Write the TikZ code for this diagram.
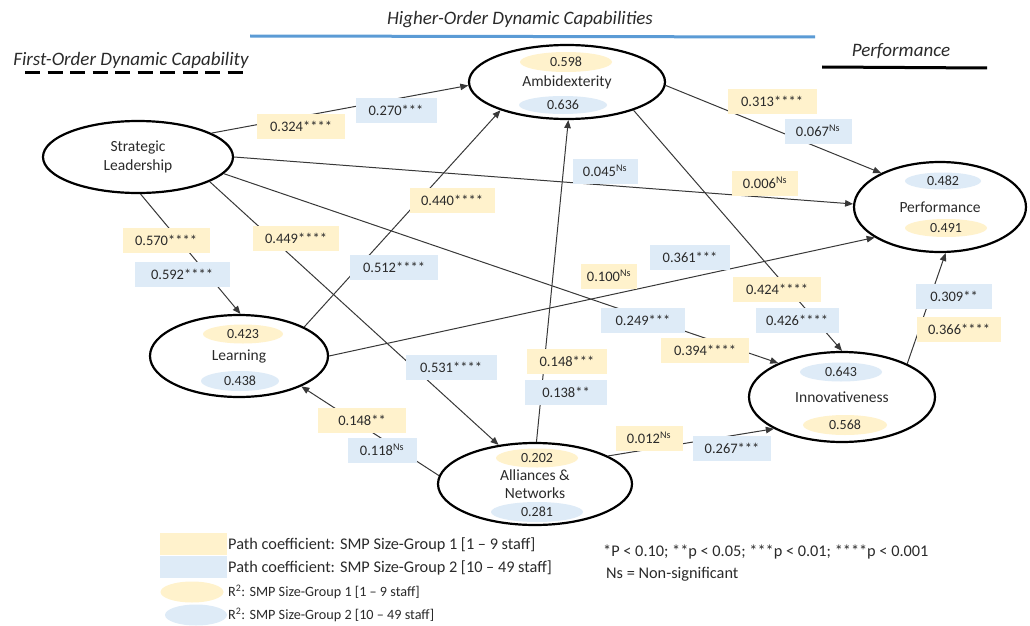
\documentclass[tikz,border=0pt]{standalone}
\usepackage{fontspec}
\setmainfont{Carlito}
\usetikzlibrary{arrows.meta,shapes.geometric}
\definecolor{gone}{HTML}{FFF2CC}
\definecolor{gtwo}{HTML}{DEEBF7}
\definecolor{hdrblue}{HTML}{5B9BD5}
\definecolor{ink}{HTML}{2A2A2A}
\begin{document}
\begin{tikzpicture}[x=1pt,y=-1pt,
  construct/.style={ellipse,draw=black,line width=2.2pt,fill=white,inner sep=0pt,
    align=center,font=\fontsize{15.5}{18.5}\selectfont,text=ink},
  rone/.style={ellipse,fill=gone,inner sep=0pt,minimum width=82pt,minimum height=20pt,
    font=\fontsize{14}{16}\selectfont,text=ink},
  rtwo/.style={rone,fill=gtwo},
  pone/.style={rectangle,fill=gone,inner sep=0pt,minimum height=25pt,
    font=\fontsize{14.5}{16}\selectfont,text=ink},
  ptwo/.style={pone,fill=gtwo},
  link/.style={draw=black!78,line width=1pt,-{Triangle[length=8pt,width=6.5pt]}},
  hdr/.style={font=\fontsize{19}{22}\selectfont\itshape,text=ink},
  legtxt/.style={font=\fontsize{16.3}{18}\selectfont,text=ink,inner sep=0pt},
  legsmall/.style={font=\fontsize{14.2}{16}\selectfont,text=ink,inner sep=0pt}]
\useasboundingbox (0,0) rectangle (1030,626);

% section headings
\node[hdr] (hoc) at (520,20) {Higher-Order Dynamic Capabilities};
\draw[hdrblue,line width=3pt] (250,36) -- (815,37);
\node[hdr] (foc) at (131,60) {First-Order Dynamic Capability};
\draw[black,line width=3pt,dash pattern=on 15pt off 7.5pt] (25,72) -- (250,72);
\node[hdr] (perfh) at (901,51) {Performance};
\draw[black,line width=3pt] (822,67) -- (987,68);

% constructs
\node[construct,minimum width=190pt,minimum height=72pt] (sl) at (138,157) {Strategic\\Leadership};
\node[construct,minimum width=196pt,minimum height=74pt] (amb) at (567,82) {Ambidexterity};
\node[construct,minimum width=172pt,minimum height=90pt] (perf) at (940,207) {Performance};
\node[construct,minimum width=178pt,minimum height=82pt] (lrn) at (239,356) {Learning};
\node[construct,minimum width=186pt,minimum height=90pt] (inn) at (842,397) {Innovativeness};
\node[construct,minimum width=194pt,minimum height=82pt] (all) at (535,484) {Alliances \&\\Networks};

% R-squared values
\node[rone,minimum width=92pt] (ambr1) at (566,62) {0.598};
\node[rtwo,minimum width=88pt,minimum height=18pt] (ambr2) at (563,105) {0.636};
\node[rtwo,minimum width=76pt,minimum height=17pt] (perfr2) at (943,181) {0.482};
\node[rone,minimum width=82pt,minimum height=18pt] (perfr1) at (946,228) {0.491};
\node[rone,minimum width=80pt,minimum height=19pt] (lrnr1) at (243,334) {0.423};
\node[rtwo,minimum width=78pt,minimum height=20pt] (lrnr2) at (240,381) {0.438};
\node[rtwo,minimum width=82pt,minimum height=19pt] (innr2) at (841,372) {0.643};
\node[rone,minimum width=84pt,minimum height=20pt] (innr1) at (845,425) {0.568};
\node[rone,minimum width=82pt,minimum height=19pt] (allr1) at (537,458) {0.202};
\node[rtwo,minimum width=92pt,minimum height=20pt] (allr2) at (537,512) {0.281};

% structural paths
\draw[link] (sl.18.7) -- (amb.182);
\draw[link] (sl.0) -- (perf.178);
\draw[link] (sl.-86.7) -- (lrn.88.6);
\draw[link] (sl.-19.9) -- (all.133.4);
\draw[link] (sl.-11) -- (inn.152.4);
\draw[link] (lrn.24.4) -- (amb.203.2);
\draw[link] (lrn.0) -- (perf.205);
\draw[link] (amb.-2) -- (perf.150.5);
\draw[link] (amb.-23.2) -- (inn.90);
\draw[link] (all.88.6) -- (amb.-88.5);
\draw[link] (all.175.9) -- (lrn.-26.6);
\draw[link] (all.21.3) -- (inn.205.5);
\draw[link] (inn.27.6) -- (perf.-83);

% path coefficients
\node[pone,minimum width=88pt] (c1a) at (301,126) {0.324****};
\node[ptwo,minimum width=81pt] (c1b) at (396,110) {0.270***};
\node[ptwo,minimum width=65pt] (c2b) at (605,171) {0.045\textsuperscript{Ns}};
\node[pone,minimum width=66pt] (c2a) at (765,183) {0.006\textsuperscript{Ns}};
\node[pone,minimum width=87pt] (c3a) at (166,240) {0.570****};
\node[ptwo,minimum width=95pt] (c3b) at (182,274) {0.592****};
\node[pone,minimum width=86pt] (c4a) at (296,238) {0.449****};
\node[ptwo,minimum width=91pt] (c4b) at (451,367) {0.531****};
\node[ptwo,minimum width=84pt] (c5b) at (643,320) {0.249***};
\node[pone,minimum width=88pt] (c5a) at (705,350) {0.394****};
\node[ptwo,minimum width=88pt] (c6b) at (394,267) {0.512****};
\node[pone,minimum width=85pt] (c6a) at (452,200) {0.440****};
\node[pone,minimum width=56pt] (c7a) at (609,276) {0.100\textsuperscript{Ns}};
\node[ptwo,minimum width=80pt] (c7b) at (690,257) {0.361***};
\node[pone,minimum width=89pt] (c8a) at (772,101) {0.313****};
\node[ptwo,minimum width=67pt] (c8b) at (818,131) {0.067\textsuperscript{Ns}};
\node[pone,minimum width=88pt] (c9a) at (777,289) {0.424****};
\node[ptwo,minimum width=83pt] (c9b) at (797,320) {0.426****};
\node[pone,minimum width=80pt] (c10a) at (567,361) {0.148***};
\node[ptwo,minimum width=82pt] (c10b) at (566,392) {0.138**};
\node[pone,minimum width=88pt] (c11a) at (362,420) {0.148**};
\node[ptwo,minimum width=69pt] (c11b) at (382,450) {0.118\textsuperscript{Ns}};
\node[pone,minimum width=67pt] (c12a) at (649,438) {0.012\textsuperscript{Ns}};
\node[ptwo,minimum width=78pt] (c12b) at (732,448) {0.267***};
\node[ptwo,minimum width=76pt] (c13b) at (954,296) {0.309**};
\node[pone,minimum width=84pt] (c13a) at (959,329) {0.366****};

% key
\node[pone,minimum width=67pt,minimum height=22pt] (k1) at (193,544) {};
\node[ptwo,minimum width=67pt,minimum height=22pt] (k2) at (193,567) {};
\node[rone,minimum width=63pt,minimum height=21pt] (k3) at (192,592) {};
\node[rtwo,minimum width=62pt,minimum height=21pt] (k4) at (196,615) {};
\node[legtxt,anchor=west] (t1) at (228,545) {Path coefficient: SMP Size-Group 1 [1 – 9 staff]};
\node[legtxt,anchor=west] (t2) at (228,568) {Path coefficient: SMP Size-Group 2 [10 – 49 staff]};
\node[legsmall,anchor=west] (t3) at (228,592) {R\textsuperscript{2}: SMP Size-Group 1 [1 – 9 staff]};
\node[legsmall,anchor=west] (t4) at (228,615) {R\textsuperscript{2}: SMP Size-Group 2 [10 – 49 staff]};
\node[legtxt,anchor=west] (sig) at (603,552) {*P < 0.10; **p < 0.05; ***p < 0.01; ****p < 0.001};
\node[legtxt,anchor=west] (nsk) at (606,574) {Ns = Non-significant};
\end{tikzpicture}
\end{document}
